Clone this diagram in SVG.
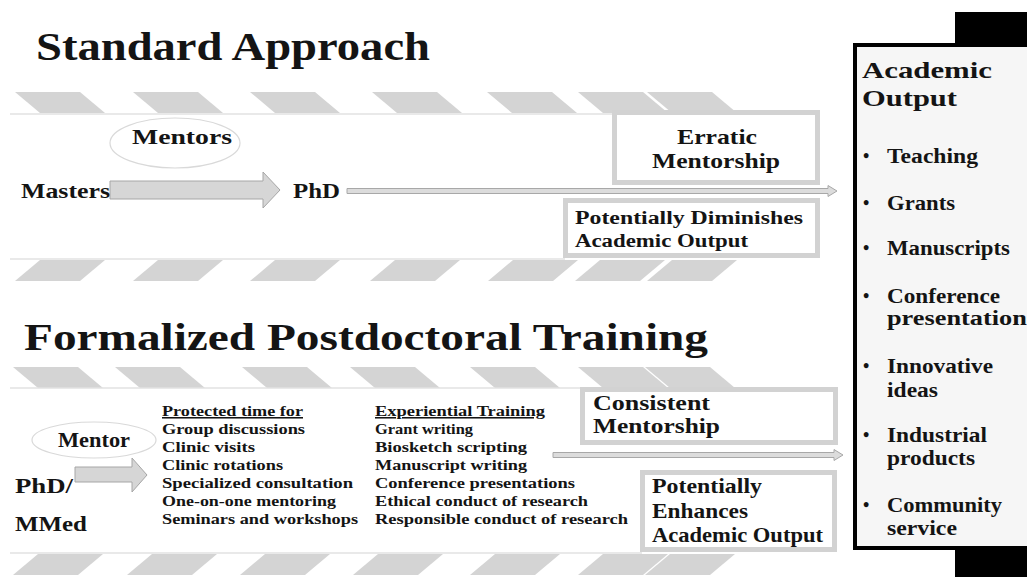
<svg xmlns="http://www.w3.org/2000/svg" width="1027" height="577" viewBox="0 0 1027 577">
<defs>
<style>
text{font-family:"Liberation Serif","Times New Roman",serif;font-weight:bold;fill:#141414}
.stripe{fill:#d4d4d4}
.bandline{stroke:#e2e2e2;stroke-width:1.5;fill:none}
.gbox{fill:#ffffff;stroke:#d2d2d2;stroke-width:5}
.ell{fill:#ffffff;stroke:#d9d9d9;stroke-width:1.2}
.blk{fill:#d6d6d6;stroke:#a6a6a6;stroke-width:1}
.thin{fill:#dcdcdc;stroke:#a8a8a8;stroke-width:1}
.t1{font-size:41px}
.t2{font-size:38px}
.m{font-size:21px}
.s{font-size:18px}
.l{font-size:15.5px}
.o{font-size:20px}
.b{font-size:18px}
</style>
<polygon id="sd" class="stripe" points="0,0 65,0 90,21 25,21"/>
<polygon id="su" class="stripe" points="25,0 90,0 65,21 0,21"/>
</defs>

<g id="bands">
<use href="#sd" x="15" y="92"/><use href="#sd" x="133" y="92"/><use href="#sd" x="250" y="92"/>
<use href="#sd" x="372" y="92"/><use href="#sd" x="487" y="92"/><use href="#sd" x="578" y="92"/><use href="#sd" x="647" y="92"/>
<line class="bandline" x1="10" y1="114" x2="614" y2="114"/>
<use href="#su" x="15" y="260"/><use href="#su" x="133" y="260"/><use href="#su" x="250" y="260"/>
<use href="#su" x="370" y="260"/><use href="#su" x="488" y="260"/><use href="#su" x="575" y="260"/><use href="#su" x="647" y="260"/>
<line class="bandline" x1="10" y1="259" x2="565" y2="259"/>
<use href="#sd" x="13" y="367"/><use href="#sd" x="115" y="367"/><use href="#sd" x="242" y="367"/>
<use href="#sd" x="350" y="367"/><use href="#sd" x="470" y="367"/><use href="#sd" x="578" y="367"/><use href="#sd" x="645" y="367"/>
<line class="bandline" x1="10" y1="388" x2="582" y2="388"/>
<use href="#su" x="13" y="554"/><use href="#su" x="127" y="554"/><use href="#su" x="240" y="554"/>
<use href="#su" x="353" y="554"/><use href="#su" x="470" y="554"/><use href="#su" x="578" y="554"/><use href="#su" x="645" y="554"/>
<line class="bandline" x1="10" y1="553" x2="642" y2="553"/>
</g>

<g id="titles">
<text class="t1" x="36" y="60" textLength="394" lengthAdjust="spacingAndGlyphs">Standard Approach</text>
<text class="t2" x="24" y="350" textLength="684" lengthAdjust="spacingAndGlyphs">Formalized Postdoctoral Training</text>
</g>

<g id="connectors">
<polygon class="blk" points="110,181 263,181 263,172 280,190 263,208 263,199 110,199"/>
<polygon class="thin" points="347,188.5 828,188.5 828,185.5 837,191 828,196.5 828,193.5 347,193.5"/>
<polygon class="blk" points="75,467 132,467 132,458 147,475 132,492 132,482 75,482"/>
<polygon class="thin" points="553,452.5 834,452.5 834,449.5 843,455 834,460.5 834,457.5 553,457.5"/>
</g>

<g id="masters">
<text class="m" x="21" y="198" textLength="89" lengthAdjust="spacingAndGlyphs">Masters</text>
</g>
<g id="mentors">
<ellipse class="ell" cx="175" cy="143" rx="65" ry="25"/>
<text class="m" x="132" y="144" textLength="100" lengthAdjust="spacingAndGlyphs">Mentors</text>
</g>
<g id="phd">
<text class="m" x="293" y="198" textLength="47" lengthAdjust="spacingAndGlyphs">PhD</text>
</g>
<g id="erratic">
<rect class="gbox" x="614.5" y="112.5" width="203" height="70"/>
<text class="m" x="677" y="144" textLength="80" lengthAdjust="spacingAndGlyphs">Erratic</text>
<text class="m" x="652" y="168" textLength="128" lengthAdjust="spacingAndGlyphs">Mentorship</text>
</g>
<g id="diminishes">
<rect class="gbox" x="565.5" y="200.5" width="252" height="55"/>
<text class="s" x="575" y="224" textLength="228" lengthAdjust="spacingAndGlyphs">Potentially Diminishes</text>
<text class="s" x="575" y="247" textLength="173" lengthAdjust="spacingAndGlyphs">Academic Output</text>
</g>

<g id="mentor">
<ellipse class="ell" cx="94" cy="440" rx="62" ry="18"/>
<text class="m" x="58" y="447" textLength="72" lengthAdjust="spacingAndGlyphs">Mentor</text>
</g>
<g id="phdmmed">
<text class="m" x="15" y="493" font-size="22" textLength="58" lengthAdjust="spacingAndGlyphs">PhD/</text>
<text class="m" x="15" y="531" font-size="22" textLength="72" lengthAdjust="spacingAndGlyphs">MMed</text>
</g>
<g id="protected">
<text class="l" x="162" y="416" text-decoration="underline" textLength="141" lengthAdjust="spacingAndGlyphs">Protected time for</text>
<text class="l" x="162" y="434" textLength="143" lengthAdjust="spacingAndGlyphs">Group discussions</text>
<text class="l" x="162" y="452" textLength="93" lengthAdjust="spacingAndGlyphs">Clinic visits</text>
<text class="l" x="162" y="470" textLength="121" lengthAdjust="spacingAndGlyphs">Clinic rotations</text>
<text class="l" x="162" y="488" textLength="191" lengthAdjust="spacingAndGlyphs">Specialized consultation</text>
<text class="l" x="162" y="506" textLength="174" lengthAdjust="spacingAndGlyphs">One-on-one mentoring</text>
<text class="l" x="162" y="524" textLength="196" lengthAdjust="spacingAndGlyphs">Seminars and workshops</text>
</g>
<g id="experiential">
<text class="l" x="375" y="416" text-decoration="underline" textLength="170" lengthAdjust="spacingAndGlyphs">Experiential Training</text>
<text class="l" x="375" y="434" textLength="98" lengthAdjust="spacingAndGlyphs">Grant writing</text>
<text class="l" x="375" y="452" textLength="152" lengthAdjust="spacingAndGlyphs">Biosketch scripting</text>
<text class="l" x="375" y="470" textLength="152" lengthAdjust="spacingAndGlyphs">Manuscript writing</text>
<text class="l" x="375" y="488" textLength="200" lengthAdjust="spacingAndGlyphs">Conference presentations</text>
<text class="l" x="375" y="506" textLength="213" lengthAdjust="spacingAndGlyphs">Ethical conduct of research</text>
<text class="l" x="375" y="524" textLength="253" lengthAdjust="spacingAndGlyphs">Responsible conduct of research</text>
</g>
<g id="consistent">
<rect class="gbox" x="582.5" y="389.5" width="253" height="53"/>
<text class="m" x="593" y="410" textLength="117" lengthAdjust="spacingAndGlyphs">Consistent</text>
<text class="m" x="593" y="433" textLength="127" lengthAdjust="spacingAndGlyphs">Mentorship</text>
</g>
<g id="enhances">
<rect class="gbox" x="642.5" y="472.5" width="192" height="77"/>
<text class="m" x="652" y="493" textLength="110" lengthAdjust="spacingAndGlyphs">Potentially</text>
<text class="m" x="652" y="518" textLength="96" lengthAdjust="spacingAndGlyphs">Enhances</text>
<text class="m" x="652" y="542" textLength="171" lengthAdjust="spacingAndGlyphs">Academic Output</text>
</g>

<g id="academic-output">
<rect x="955" y="12" width="80" height="40" fill="#000"/>
<rect x="955" y="545" width="80" height="40" fill="#000"/>
<rect x="855" y="45" width="200" height="503" fill="#f6f6f6" stroke="#000" stroke-width="4"/>
<text x="862" y="78" font-size="24" textLength="130" lengthAdjust="spacingAndGlyphs">Academic</text>
<text x="862" y="106" font-size="24" textLength="95" lengthAdjust="spacingAndGlyphs">Output</text>
<text class="b" x="863" y="162">•</text><text class="o" x="887" y="163" textLength="91" lengthAdjust="spacingAndGlyphs">Teaching</text>
<text class="b" x="863" y="209">•</text><text class="o" x="887" y="210" textLength="68" lengthAdjust="spacingAndGlyphs">Grants</text>
<text class="b" x="863" y="254">•</text><text class="o" x="887" y="255" textLength="123" lengthAdjust="spacingAndGlyphs">Manuscripts</text>
<text class="b" x="863" y="302">•</text><text class="o" x="887" y="303" textLength="113" lengthAdjust="spacingAndGlyphs">Conference</text>
<text class="o" x="887" y="325" textLength="150" lengthAdjust="spacingAndGlyphs">presentations</text>
<text class="b" x="863" y="372">•</text><text class="o" x="887" y="373" textLength="106" lengthAdjust="spacingAndGlyphs">Innovative</text>
<text class="o" x="887" y="397" textLength="51" lengthAdjust="spacingAndGlyphs">ideas</text>
<text class="b" x="863" y="441">•</text><text class="o" x="887" y="442" textLength="100" lengthAdjust="spacingAndGlyphs">Industrial</text>
<text class="o" x="887" y="465" textLength="88" lengthAdjust="spacingAndGlyphs">products</text>
<text class="b" x="863" y="511">•</text><text class="o" x="887" y="512" textLength="115" lengthAdjust="spacingAndGlyphs">Community</text>
<text class="o" x="887" y="535" textLength="70" lengthAdjust="spacingAndGlyphs">service</text>
</g>
</svg>
